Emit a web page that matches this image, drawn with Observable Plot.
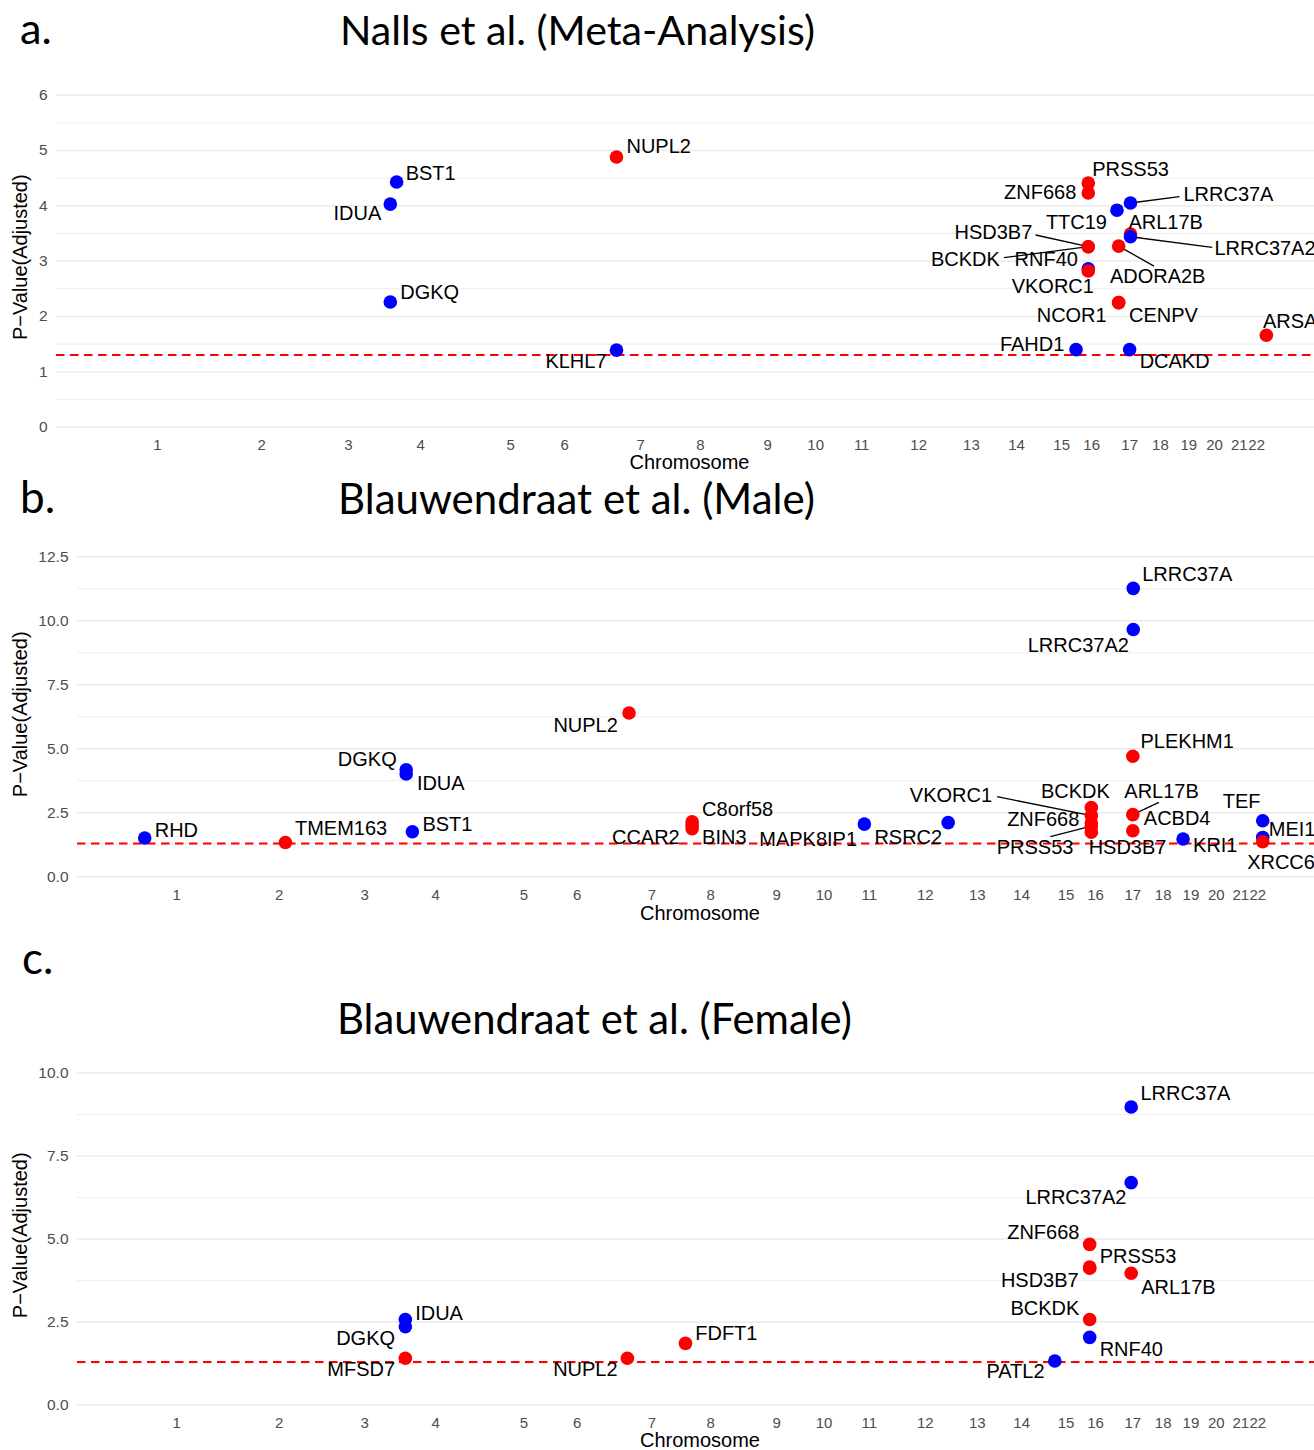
<!DOCTYPE html>
<html>
<head>
<meta charset="utf-8">
<script src="https://cdn.jsdelivr.net/npm/d3@7"></script>
<script src="https://cdn.jsdelivr.net/npm/@observablehq/plot@0.6"></script>
<style>
  html, body { margin: 0; padding: 0; background: #fff; overflow: hidden; }
  #page { position: relative; width: 1314px; height: 1450px; overflow: hidden; background: #fff; }
  #titles { position: absolute; left: 0; top: 0; pointer-events: none; }
</style>
</head>
<body>
<div id="page"></div>
<script>
// ---------------- DATA ----------------
const chrLabels  = ["1","2","3","4","5","6","7","8","9","10","11","12","13","14","15","16","17","18","19","20","21","22"];
// chromosome centre positions on the cumulative genome axis (axis units 0..3000)
const chrCenters = [239, 486, 692, 863, 1076, 1204, 1384, 1526, 1685, 1799, 1908, 2043, 2168, 2275, 2382, 2453, 2543, 2616, 2683, 2744, 2803, 2844];
const threshold  = 1.30103; // -log10(0.05)

// a. Nalls et al. (Meta-Analysis)
const naGenes = ["BST1","IDUA","DGKQ","NUPL2","KLHL7","PRSS53","ZNF668","TTC19","LRRC37A","HSD3B7","BCKDK","ADORA2B","ARL17B","LRRC37A2","RNF40","VKORC1","NCOR1","CENPV","FAHD1","DCAKD","ARSA"];
const naPos   = [806, 791, 791, 1327, 1327, 2445, 2445, 2513, 2545, 2445, 2445, 2517, 2545, 2545, 2445, 2445, 2517, 2517, 2416, 2543, 2867];
const naLogP  = [4.43, 4.03, 2.26, 4.88, 1.39, 4.41, 4.23, 3.92, 4.05, 3.26, 3.26, 3.27, 3.49, 3.44, 2.86, 2.82, 2.25, 2.25, 1.40, 1.40, 1.66];
const naDir   = ["down","down","down","up","down","up","up","down","down","up","up","up","up","down","down","up","up","up","down","down","up"];

// b. Blauwendraat et al. (Male)
const maGenes = ["RHD","TMEM163","DGKQ","IDUA","BST1","NUPL2","C8orf58","BIN3","CCAR2","MAPK8IP1","RSRC2","BCKDK","VKORC1","ZNF668","PRSS53","HSD3B7","LRRC37A","LRRC37A2","PLEKHM1","ARL17B","ACBD4","KRI1","TEF","MEI1","XRCC6"];
const maPos   = [162, 501, 792, 792, 807, 1329, 1481, 1481, 1481, 1896, 2098, 2443, 2443, 2443, 2443, 2443, 2544, 2544, 2543, 2543, 2543, 2664, 2856, 2856, 2856];
const maLogP  = [1.52, 1.34, 4.18, 4.02, 1.76, 6.40, 2.15, 2.02, 1.88, 2.06, 2.12, 2.71, 2.39, 2.10, 1.98, 1.74, 11.27, 9.66, 4.71, 2.43, 1.80, 1.48, 2.19, 1.54, 1.37];
const maDir   = ["down","up","down","down","down","up","up","up","up","down","down","up","up","up","up","up","down","down","up","up","up","down","down","down","up"];

// c. Blauwendraat et al. (Female)
const feGenes = ["IDUA","DGKQ","MFSD7","NUPL2","FDFT1","LRRC37A","LRRC37A2","ZNF668","PRSS53","HSD3B7","ARL17B","BCKDK","RNF40","PATL2"];
const fePos   = [790, 790, 790, 1325, 1465, 2539, 2539, 2439, 2439, 2439, 2539, 2439, 2439, 2355];
const feLogP  = [2.58, 2.36, 1.41, 1.41, 1.86, 8.98, 6.70, 4.84, 4.16, 4.12, 3.97, 2.58, 2.04, 1.33];
const feDir   = ["down","down","up","up","up","down","down","up","up","up","up","up","down","down"];

const panelTags   = ["a.", "b.", "c."];
const panelTitles = ["Nalls et al. (Meta-Analysis)", "Blauwendraat et al. (Male)", "Blauwendraat et al. (Female)"];
const yTitle = "P\u2212Value(Adjusted)";
const xTitle = "Chromosome";

// ---------------- LABEL PLACEMENT (pixel nudges, like ggrepel) ----------------
// [dx, dy, anchor, leaderEndDx, leaderEndDy]
const layoutA = {
  BST1:[9,-8,"start"], IDUA:[-9,9,"end"], DGKQ:[10,-9,"start"], NUPL2:[10,-10,"start"], KLHL7:[-10,11,"end"],
  PRSS53:[4,-13,"start"], ZNF668:[-12,0,"end"], TTC19:[-10,12,"end"],
  LRRC37A:[53,-8,"start",49,-6.3], HSD3B7:[-56,-14.4,"end",-52.7,-11.7], BCKDK:[-88.4,12.6,"end",-84.4,11],
  ADORA2B:[39,30.7,"middle",35.3,20], ARL17B:[-2,-11,"start"], LRRC37A2:[84,11.6,"start",81.7,10.6],
  RNF40:[-10.4,-9,"end"], VKORC1:[5.6,15.7,"end"], NCOR1:[-12,13.4,"end"], CENPV:[10.3,13.4,"start"],
  FAHD1:[-11.7,-5.3,"end"], DCAKD:[10,12.4,"start"], ARSA:[-3.4,-13.3,"start"]
};
const layoutB = {
  RHD:[10,-7.3,"start"], TMEM163:[9.6,-14.4,"start"], DGKQ:[-9.5,-10,"end"], IDUA:[10.7,10,"start"], BST1:[10,-7.7,"start"],
  NUPL2:[-11.2,12.3,"end"], C8orf58:[10,-11.8,"start"], BIN3:[10,12.3,"start"], CCAR2:[-12.4,8.7,"end"],
  MAPK8IP1:[-7.3,15,"end"], RSRC2:[-6,15,"end"], BCKDK:[-16,-16,"middle"], VKORC1:[-99.3,-20,"end",-94.3,-19],
  ZNF668:[-12,-4,"end"], PRSS53:[-56.3,21.2,"middle",-41,10.5], HSD3B7:[-2.7,15,"start"],
  LRRC37A:[9,-13.3,"start"], LRRC37A2:[-4.4,15.7,"end"], PLEKHM1:[7.7,-15,"start"], ARL17B:[28.7,-23.3,"middle",26,-12.3],
  ACBD4:[11,-11.7,"start"], KRI1:[10,6.7,"start"], TEF:[-2.3,-19.3,"end"], MEI1:[6,-7.4,"start"], XRCC6:[-15.6,21.3,"start"]
};
const layoutC = {
  IDUA:[9.8,-6,"start"], DGKQ:[-10.3,11.6,"end"], MFSD7:[-10.3,11.7,"end"], NUPL2:[-9.8,11.7,"end"], FDFT1:[9.8,-10,"start"],
  LRRC37A:[9.3,-13.4,"start"], LRRC37A2:[-4.7,15,"end"], ZNF668:[-10.3,-12,"end"], PRSS53:[10,-10.2,"start"],
  HSD3B7:[-11,11.8,"end"], ARL17B:[10,14.4,"start"], BCKDK:[-10.3,-11,"end"], RNF40:[10,12.7,"start"], PATL2:[-10.3,10.3,"end"]
};

const FONT = "'Liberation Sans', Arial, Helvetica, sans-serif";
const page = document.getElementById("page");

function panel(cfg) {
  const {genes, pos, logp, dir, layout, y0, ppu, yDomain, major, minor, fmt, marginLeft, tickPad, yLabelDx, xLabelDy} = cfg;
  const width = 1322, marginRight = 0, marginTop = 30, marginBottom = 52;
  const frameH = (yDomain[1] - yDomain[0]) * ppu;
  const frameTop = y0 - yDomain[1] * ppu;
  const kx = 3000 / (width - marginLeft - marginRight);
  const ky = 1 / ppu;
  const rows = genes.map((g, i) => ({gene: g, pos: pos[i], logp: logp[i], dir: dir[i]}));
  const links = rows.filter(r => layout[r.gene] && layout[r.gene].length > 3).map(r => {
    const L = layout[r.gene];
    return {x1: r.pos, y1: r.logp, x2: r.pos + L[3] * kx, y2: r.logp - L[4] * ky};
  });
  const labelMarks = rows.map(r => {
    const L = layout[r.gene] || [8, -10, "start"];
    return Plot.text([r], {x: "pos", y: "logp", text: "gene", dx: L[0], dy: L[1], textAnchor: L[2],
      lineAnchor: "middle", fontSize: 20, fill: "#000", fontFamily: FONT});
  });
  const p = Plot.plot({
    width, height: marginTop + frameH + marginBottom,
    marginLeft, marginRight, marginTop, marginBottom,
    x: {domain: [0, 3000], axis: null},
    y: {domain: yDomain, axis: null},
    color: {domain: ["up", "down"], range: ["#ff0000", "#0000ff"]},
    style: {background: "transparent", overflow: "visible", maxWidth: "none", fontFamily: FONT},
    marks: [
      Plot.ruleY(minor, {stroke: "#ebebeb", strokeWidth: 0.9}),
      Plot.ruleY(major, {stroke: "#ebebeb", strokeWidth: 1.5}),
      Plot.axisY(major, {tickSize: 0, tickPadding: 9, tickFormat: fmt, fontSize: 15.5, fill: "#4d4d4d", fontFamily: FONT}),
      Plot.axisX(chrCenters, {tickSize: 0, tickPadding: tickPad, tickFormat: d => chrLabels[chrCenters.indexOf(d)],
        fontSize: 15, fill: "#4d4d4d", fontFamily: FONT}),
      Plot.ruleY([threshold], {stroke: "#ff0000", strokeWidth: 2, strokeDasharray: "8.5,5.5"}),
      Plot.link(links, {x1: "x1", y1: "y1", x2: "x2", y2: "y2", stroke: "#000", strokeWidth: 1.3}),
      Plot.dot(rows, {x: "pos", y: "logp", fill: "dir", r: 6.8}),
      ...labelMarks,
      Plot.text([yTitle], {frameAnchor: "left", rotate: -90, dx: yLabelDx, textAnchor: "middle", lineAnchor: "middle",
        fontSize: 20, fill: "#000", fontFamily: FONT}),
      Plot.text([xTitle], {frameAnchor: "bottom", dy: xLabelDy, textAnchor: "middle", lineAnchor: "middle",
        fontSize: 20, fill: "#000", fontFamily: FONT})
    ]
  });
  p.style.position = "absolute";
  p.style.left = "0px";
  p.style.top = (frameTop - marginTop) + "px";
  return p;
}

const intFmt = d => String(d);
const oneDec = d3.format(".1f");

page.appendChild(panel({
  genes: naGenes, pos: naPos, logp: naLogP, dir: naDir, layout: layoutA,
  y0: 427, ppu: 55.33, yDomain: [-0.16, 6.3],
  major: [0, 1, 2, 3, 4, 5, 6], minor: [0.5, 1.5, 2.5, 3.5, 4.5, 5.5], fmt: intFmt,
  marginLeft: 56, tickPad: 3, yLabelDx: -36, xLabelDy: 27
}));
page.appendChild(panel({
  genes: maGenes, pos: maPos, logp: maLogP, dir: maDir, layout: layoutB,
  y0: 876, ppu: 25.6, yDomain: [-0.4, 13.1],
  major: [0, 2.5, 5, 7.5, 10, 12.5], minor: [1.25, 3.75, 6.25, 8.75, 11.25], fmt: oneDec,
  marginLeft: 77, tickPad: 2, yLabelDx: -57, xLabelDy: 26
}));
page.appendChild(panel({
  genes: feGenes, pos: fePos, logp: feLogP, dir: feDir, layout: layoutC,
  y0: 1405, ppu: 33.2, yDomain: [-0.27, 10.5],
  major: [0, 2.5, 5, 7.5, 10], minor: [1.25, 3.75, 6.25, 8.75], fmt: oneDec,
  marginLeft: 77, tickPad: 3, yLabelDx: -57, xLabelDy: 27
}));

// ---------------- TITLES ----------------
const titleLayout = [
  {tagX: 20, tagY: 44, titleX: 340, titleY: 45, titleW: 475},
  {tagX: 20, tagY: 513, titleX: 338, titleY: 514, titleW: 477},
  {tagX: 22, tagY: 974, titleX: 337, titleY: 1034, titleW: 515}
];
const NS = "http://www.w3.org/2000/svg";
const tsvg = document.createElementNS(NS, "svg");
tsvg.setAttribute("id", "titles");
tsvg.setAttribute("width", 1314);
tsvg.setAttribute("height", 1450);
page.appendChild(tsvg);
const TFONT = "Lato, 'Open Sans', sans-serif";
titleLayout.forEach((L, i) => {
  const t = document.createElementNS(NS, "text");
  t.setAttribute("x", L.titleX); t.setAttribute("y", L.titleY);
  t.setAttribute("font-family", TFONT); t.setAttribute("font-size", 36);
  t.textContent = panelTitles[i];
  tsvg.appendChild(t);
  const w = t.getComputedTextLength();
  const fs = w > 0 ? 36 * L.titleW / w : 36;
  t.setAttribute("font-size", fs.toFixed(2));
  const g = document.createElementNS(NS, "text");
  g.setAttribute("x", L.tagX); g.setAttribute("y", L.tagY);
  g.setAttribute("font-family", TFONT); g.setAttribute("font-size", (fs * 1.05).toFixed(2));
  g.textContent = panelTags[i];
  tsvg.appendChild(g);
});
</script>
</body>
</html>
